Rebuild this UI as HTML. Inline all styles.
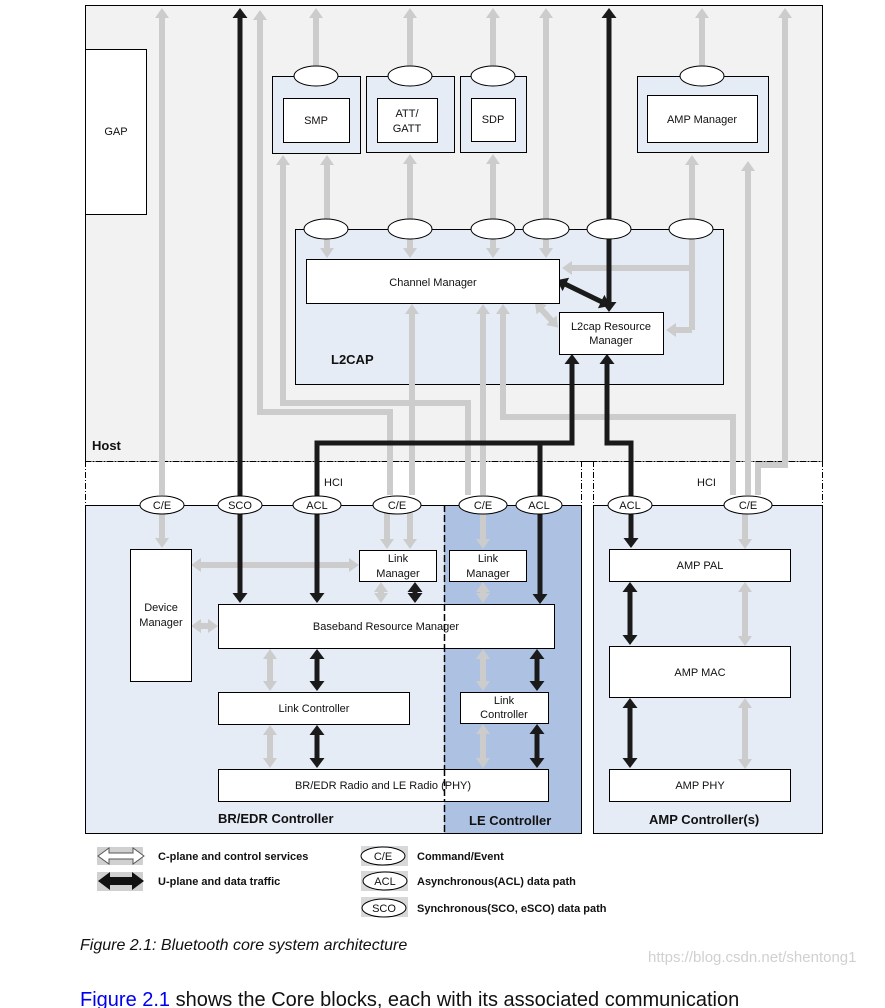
<!DOCTYPE html>
<html><head><meta charset="utf-8"><style>
html,body{margin:0;padding:0;background:#fff}
svg{display:block}
text{font-family:"Liberation Sans",sans-serif;font-size:11px;fill:#111}
.b{font-weight:bold}
</style></head><body>
<svg width="885" height="1008" viewBox="0 0 885 1008" xmlns="http://www.w3.org/2000/svg">
<defs>
<marker id="g" viewBox="0 0 10 10" refX="1" refY="5" markerWidth="10" markerHeight="14" markerUnits="userSpaceOnUse" orient="auto-start-reverse" preserveAspectRatio="none"><path d="M0,0L10,5L0,10z" fill="#cccccc"/></marker>
<marker id="k" viewBox="0 0 10 10" refX="1" refY="5" markerWidth="10" markerHeight="15" markerUnits="userSpaceOnUse" orient="auto-start-reverse" preserveAspectRatio="none"><path d="M0,0L10,5L0,10z" fill="#1a1a1a"/></marker>
</defs>
<rect x="85.5" y="5.5" width="737" height="456" fill="#f2f2f2" stroke="#000"/>
<rect x="85.5" y="461.5" width="496" height="44" fill="#fff"/>
<rect x="593.5" y="461.5" width="229" height="44" fill="#fff"/>
<rect x="85.5" y="505.5" width="496" height="328" fill="#e6ecf6" stroke="#000"/>
<rect x="444" y="505.5" width="137" height="328" fill="#adc2e2"/>
<rect x="593.5" y="505.5" width="229" height="328" fill="#e6ecf6" stroke="#000"/>
<line x1="85" y1="461.5" x2="823" y2="461.5" stroke="#000" stroke-dasharray="6,2,1,2"/>
<line x1="85.5" y1="461" x2="85.5" y2="506" stroke="#000" stroke-dasharray="6,2,1,2"/>
<line x1="581.5" y1="461" x2="581.5" y2="834" stroke="#000" stroke-dasharray="6,2,1,2"/>
<line x1="593.5" y1="461" x2="593.5" y2="506" stroke="#000" stroke-dasharray="6,2,1,2"/>
<line x1="822.5" y1="461" x2="822.5" y2="506" stroke="#000" stroke-dasharray="6,2,1,2"/>
<line x1="444.5" y1="505" x2="444.5" y2="834" stroke="#000" stroke-width="1.5" stroke-dasharray="7,3"/>
<rect x="85.5" y="505.5" width="496" height="328" fill="none" stroke="#000"/>
<rect x="85.5" y="49.5" width="61" height="165" fill="#fff" stroke="#000"/>
<text x="116" y="135" text-anchor="middle">GAP</text>
<rect x="272.5" y="76.5" width="88" height="77" fill="#e6ecf6" stroke="#000"/>
<rect x="366.5" y="76.5" width="88" height="76" fill="#e6ecf6" stroke="#000"/>
<rect x="460.5" y="76.5" width="66" height="76" fill="#e6ecf6" stroke="#000"/>
<rect x="637.5" y="76.5" width="131" height="76" fill="#e6ecf6" stroke="#000"/>
<rect x="295.5" y="229.5" width="428" height="155" fill="#e6ecf6" stroke="#000"/>
<text x="331" y="364" class="b" style="font-size:13px">L2CAP</text>
<text x="92" y="450" class="b" style="font-size:13px">Host</text>
<g fill="none" stroke="#cccccc" stroke-width="6">
<path d="M162,495L162,17" marker-end="url(#g)"/>
<path d="M162,513L162,539" marker-end="url(#g)"/>
<path d="M316,66L316,17" marker-end="url(#g)"/>
<path d="M410,66L410,17" marker-end="url(#g)"/>
<path d="M493,66L493,17" marker-end="url(#g)"/>
<path d="M702,66L702,17" marker-end="url(#g)"/>
<path d="M390,495L390,412L260,412L260,19" marker-end="url(#g)"/>
<path d="M468,495L468,403L283,403L283,164" marker-end="url(#g)"/>
<path d="M327,164L327,249" marker-start="url(#g)" marker-end="url(#g)"/>
<path d="M410,163L410,249" marker-start="url(#g)" marker-end="url(#g)"/>
<path d="M493,163L493,249" marker-start="url(#g)" marker-end="url(#g)"/>
<path d="M546,17L546,249" marker-start="url(#g)" marker-end="url(#g)"/>
<path d="M692,164L692,330" marker-start="url(#g)"/>
<path d="M692,268L571,268" marker-end="url(#g)"/>
<path d="M692,330L675,330" marker-end="url(#g)"/>
<path d="M412,495L412,313" marker-end="url(#g)"/>
<path d="M483,495L483,313" marker-end="url(#g)"/>
<path d="M733,495L733,417L503,417L503,313" marker-end="url(#g)"/>
<path d="M748,495L748,170" marker-end="url(#g)"/>
<path d="M758,495L758,465L785,465L785,17" marker-end="url(#g)"/>
<path d="M541,309L552,321" marker-start="url(#g)" marker-end="url(#g)"/>
<path d="M387,513L387,540" marker-end="url(#g)"/>
<path d="M410,513L410,540" marker-end="url(#g)"/>
<path d="M381,591L381,594" marker-start="url(#g)" marker-end="url(#g)"/>
<path d="M200,565L350,565" marker-start="url(#g)" marker-end="url(#g)"/>
<path d="M200,626L209,626" marker-start="url(#g)" marker-end="url(#g)"/>
<path d="M270,658L270,682" marker-start="url(#g)" marker-end="url(#g)"/>
<path d="M270,734L270,759" marker-start="url(#g)" marker-end="url(#g)"/>
<path d="M483,513L483,540" marker-end="url(#g)"/>
<path d="M483,591L483,594" marker-start="url(#g)" marker-end="url(#g)"/>
<path d="M483,658L483,682" marker-start="url(#g)" marker-end="url(#g)"/>
<path d="M483,733L483,759" marker-start="url(#g)" marker-end="url(#g)"/>
<path d="M745,513L745,540" marker-end="url(#g)"/>
<path d="M745,591L745,637" marker-start="url(#g)" marker-end="url(#g)"/>
<path d="M745,707L745,760" marker-start="url(#g)" marker-end="url(#g)"/>
</g>
<g fill="none" stroke="#1a1a1a" stroke-width="5">
<path d="M240,17L240,594" marker-start="url(#k)" marker-end="url(#k)"/>
<path d="M609,17L609,303" marker-start="url(#k)" marker-end="url(#k)"/>
<path d="M565,284L602,302" marker-start="url(#k)" marker-end="url(#k)"/>
<path d="M317,594L317,443L572,443L572,363" marker-start="url(#k)" marker-end="url(#k)"/>
<path d="M540,443L540,595" marker-end="url(#k)"/>
<path d="M607,363L607,443L631,443L631,539" marker-start="url(#k)" marker-end="url(#k)"/>
<path d="M415,591L415,594" marker-start="url(#k)" marker-end="url(#k)"/>
<path d="M317,658L317,682" marker-start="url(#k)" marker-end="url(#k)"/>
<path d="M317,734L317,759" marker-start="url(#k)" marker-end="url(#k)"/>
<path d="M537,658L537,682" marker-start="url(#k)" marker-end="url(#k)"/>
<path d="M537,733L537,759" marker-start="url(#k)" marker-end="url(#k)"/>
<path d="M630,591L630,636" marker-start="url(#k)" marker-end="url(#k)"/>
<path d="M630,707L630,759" marker-start="url(#k)" marker-end="url(#k)"/>
</g>
<g fill="#fff" stroke="#000">
<rect x="283.5" y="98.5" width="66" height="44"/>
<rect x="377.5" y="98.5" width="60" height="44"/>
<rect x="471.5" y="98.5" width="44" height="43"/>
<rect x="647.5" y="95.5" width="110" height="47"/>
<rect x="306.5" y="259.5" width="253" height="44"/>
<rect x="559.5" y="312.5" width="104" height="42"/>
<rect x="130.5" y="549.5" width="61" height="132"/>
<rect x="359.5" y="550.5" width="77" height="31"/>
<rect x="449.5" y="550.5" width="77" height="31"/>
<rect x="218.5" y="604.5" width="336" height="44"/>
<rect x="218.5" y="692.5" width="191" height="32"/>
<rect x="460.5" y="692.5" width="88" height="31"/>
<rect x="218.5" y="769.5" width="330" height="32"/>
<rect x="609.5" y="549.5" width="181" height="32"/>
<rect x="609.5" y="646.5" width="181" height="51"/>
<rect x="609.5" y="769.5" width="181" height="32"/>
</g>
<line x1="444.5" y1="604" x2="444.5" y2="649" stroke="#000" stroke-width="1.5" stroke-dasharray="7,3"/>
<line x1="444.5" y1="769" x2="444.5" y2="802" stroke="#000" stroke-width="1.5" stroke-dasharray="7,3"/>
<g fill="#fff" stroke="#000">
<ellipse cx="316" cy="76" rx="22" ry="10"/>
<ellipse cx="410" cy="76" rx="22" ry="10"/>
<ellipse cx="493" cy="76" rx="22" ry="10"/>
<ellipse cx="702" cy="76" rx="22" ry="10"/>
<ellipse cx="326" cy="229" rx="22" ry="10"/>
<ellipse cx="410" cy="229" rx="22" ry="10"/>
<ellipse cx="493" cy="229" rx="22" ry="10"/>
<ellipse cx="546" cy="229" rx="23" ry="10"/>
<ellipse cx="609" cy="229" rx="22" ry="10"/>
<ellipse cx="691" cy="229" rx="22" ry="10"/>
<ellipse cx="162" cy="505" rx="22" ry="9"/>
<ellipse cx="240" cy="505" rx="22" ry="9"/>
<ellipse cx="317" cy="505" rx="24" ry="9"/>
<ellipse cx="397" cy="505" rx="24" ry="9"/>
<ellipse cx="483" cy="505" rx="24" ry="9"/>
<ellipse cx="539" cy="505" rx="23" ry="9"/>
<ellipse cx="630" cy="505" rx="22" ry="9"/>
<ellipse cx="748" cy="505" rx="24" ry="9"/>
</g>
<g text-anchor="middle">
<text x="316" y="124">SMP</text>
<text x="407" y="117">ATT/</text><text x="407" y="132">GATT</text>
<text x="493" y="123">SDP</text>
<text x="702" y="123">AMP Manager</text>
<text x="433" y="286">Channel Manager</text>
<text x="611" y="330">L2cap Resource</text><text x="611" y="344">Manager</text>
<text x="162" y="509">C/E</text><text x="240" y="509">SCO</text><text x="317" y="509">ACL</text>
<text x="397" y="509">C/E</text><text x="483" y="509">C/E</text><text x="539" y="509">ACL</text>
<text x="630" y="509">ACL</text><text x="748" y="509">C/E</text>
<text x="161" y="611">Device</text><text x="161" y="626">Manager</text>
<text x="398" y="562">Link</text><text x="398" y="577">Manager</text>
<text x="488" y="562">Link</text><text x="488" y="577">Manager</text>
<text x="386" y="630">Baseband Resource Manager</text>
<text x="314" y="712">Link Controller</text>
<text x="504" y="704">Link</text><text x="504" y="718">Controller</text>
<text x="383" y="789">BR/EDR Radio and LE Radio (PHY)</text>
<text x="700" y="569">AMP PAL</text>
<text x="700" y="676">AMP MAC</text>
<text x="700" y="789">AMP PHY</text>
</g>
<text x="324" y="486">HCI</text>
<text x="697" y="486">HCI</text>
<text x="218" y="823" class="b" style="font-size:13px">BR/EDR Controller</text>
<text x="469" y="825" class="b" style="font-size:13px">LE Controller</text>
<text x="649" y="824" class="b" style="font-size:13px">AMP Controller(s)</text>
<rect x="97" y="847" width="46" height="18" fill="#d0d0d0"/>
<path d="M98,856L109,848L109,853L133,853L133,848L144,856L133,864L133,859L109,859L109,864z" fill="#fff" stroke="#555"/>
<rect x="97" y="872" width="46" height="19" fill="#d0d0d0"/>
<path d="M98,881L110,872L110,877L132,877L132,872L144,881L132,890L132,885L110,885L110,890z" fill="#111"/>
<text x="158" y="860" class="b" style="font-size:11px">C-plane and control services</text>
<text x="158" y="885" class="b" style="font-size:11px">U-plane and data traffic</text>
<rect x="361" y="846" width="47" height="20" fill="#d8d8d8"/>
<rect x="361" y="871" width="47" height="20" fill="#d8d8d8"/>
<rect x="361" y="897" width="47" height="20" fill="#d8d8d8"/>
<g fill="#fff" stroke="#000"><ellipse cx="383" cy="856" rx="22" ry="9"/><ellipse cx="385" cy="881" rx="22" ry="9"/><ellipse cx="384" cy="908" rx="22" ry="9"/></g>
<g text-anchor="middle"><text x="383" y="860">C/E</text><text x="385" y="885">ACL</text><text x="384" y="912">SCO</text></g>
<text x="417" y="860" class="b" style="font-size:11px">Command/Event</text>
<text x="417" y="885" class="b" style="font-size:11px">Asynchronous(ACL) data path</text>
<text x="417" y="912" class="b" style="font-size:11px">Synchronous(SCO, eSCO) data path</text>
<text x="80" y="950" style="font-size:16px;font-style:italic">Figure 2.1:  Bluetooth core system architecture</text>
<text x="648" y="962" style="font-size:15px;fill:#d0d0d0">https://blog.csdn.net/shentong1</text>
<text x="80" y="1006" style="font-size:20px"><tspan style="fill:#0000ee">Figure 2.1</tspan> shows the Core blocks, each with its associated communication</text>
</svg>
</body></html>
